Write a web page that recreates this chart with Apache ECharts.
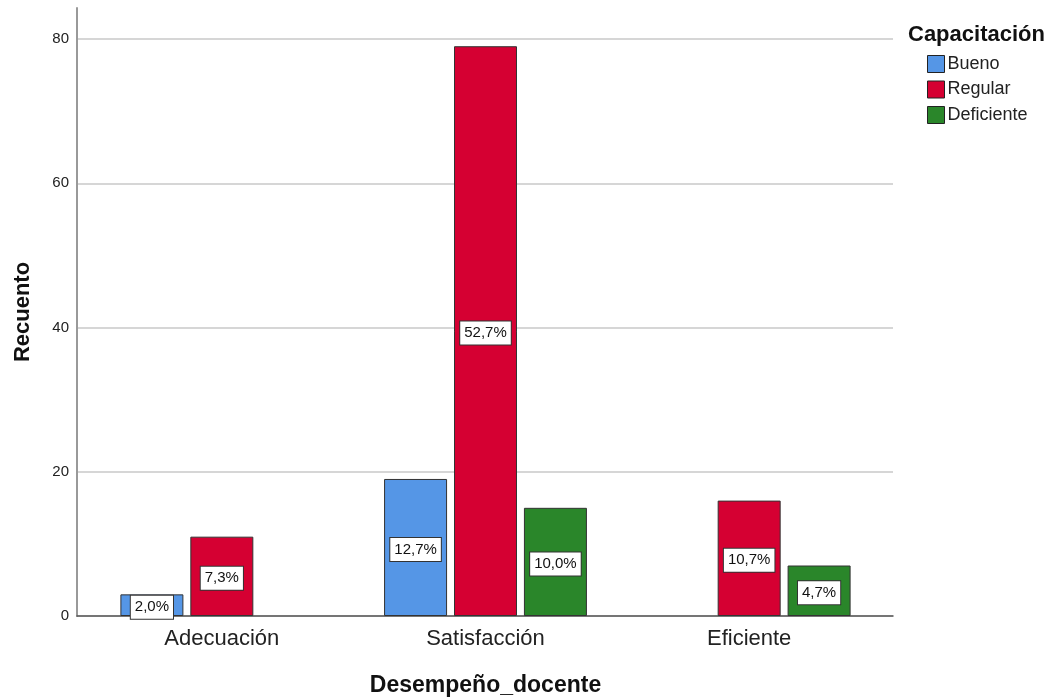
<!DOCTYPE html>
<html><head><meta charset="utf-8">
<script src="https://cdn.jsdelivr.net/npm/echarts@6/dist/echarts.min.js"></script>
<style>html,body{margin:0;padding:0;background:#fff}#c{width:1049px;height:698px}</style>
</head><body><div id="c"></div>
<script>
const categories = ['Adecuación', 'Satisfacción', 'Eficiente'];
const seriesNames = ['Bueno', 'Regular', 'Deficiente'];
const bueno = [3, 19, null];
const regular = [11, 79, 16];
const deficiente = [null, 15, 7];
const buenoPct = ['2,0%', '12,7%', ''];
const regularPct = ['7,3%', '52,7%', '10,7%'];
const deficientePct = ['', '10,0%', '4,7%'];
const yTicks = [0, 20, 40, 60, 80];
const colors = ['#5596E6', '#D50032', '#2A862A'];

const chart = echarts.init(document.getElementById('c'), null, {renderer: 'canvas'});
const font = 'Liberation Sans, Arial, sans-serif';
const YMAX = 84.3;
function mk(name, data, pct, color) {
  return {
    name: name, type: 'bar', data: data, barWidth: 63, barGap: '11%',
    xAxisIndex: 1, yAxisIndex: 1,
    itemStyle: {color: color, borderColor: '#333', borderWidth: 1},
    label: {
      show: true, position: 'inside', formatter: p => pct[p.dataIndex],
      color: '#111', fontSize: 15, fontFamily: font,
      backgroundColor: '#fff', borderColor: '#333', borderWidth: 1, padding: [5, 4, 3, 4],
      offset: [0, 2]
    }
  };
}
chart.setOption({
  animation: false,
  textStyle: {fontFamily: font},
  grid: [
    {left: 77, right: 156, top: 8, bottom: 82, outerBoundsMode: 'none', containLabel: false},
    {left: 90, right: 168, top: 8, bottom: 82, outerBoundsMode: 'none', containLabel: false}
  ],
  legend: {
    orient: 'vertical', left: 922, top: 50, itemWidth: 17, itemHeight: 17, itemGap: 7.5,
    icon: 'rect', textStyle: {fontSize: 18, color: '#222', fontFamily: font, padding: [0,0,0,-2]},
    itemStyle: {borderColor: '#222', borderWidth: 1}
  },
  title: {text: 'Capacitación', left: 903, top: 19, textStyle: {fontSize: 22, fontWeight: 'bold', color: '#111', fontFamily: font}},
  xAxis: [
    {
      type: 'value', gridIndex: 0, min: 0, max: 1,
      axisLine: {show: true, lineStyle: {color: '#555', width: 1.5}}, axisTick: {show: false},
      axisLabel: {show: false}, splitLine: {show: false}
    },
    {
      type: 'category', gridIndex: 1, data: categories,
      name: 'Desempeño_docente', nameLocation: 'middle', nameGap: 58,
      nameTextStyle: {fontSize: 23, fontWeight: 'bold', color: '#111', fontFamily: font},
      axisLine: {show: false}, axisTick: {show: false},
      axisLabel: {fontSize: 22, color: '#222', margin: 12, fontFamily: font}
    }
  ],
  yAxis: [
    {
      type: 'value', gridIndex: 0, min: 0, max: YMAX, interval: 20,
      name: 'Recuento', nameLocation: 'middle', nameGap: 43, nameRotate: 90,
      nameTextStyle: {fontSize: 22, fontWeight: 'bold', color: '#111', fontFamily: font},
      axisLine: {show: true, lineStyle: {color: '#999', width: 2}}, axisTick: {show: false},
      axisLabel: {fontSize: 15, color: '#222', margin: 8, showMaxLabel: false,
        formatter: v => yTicks.includes(v) ? String(v) : ''},
      splitLine: {show: true, showMaxLine: false, lineStyle: {color: '#c8c8c8', width: 1.5}}
    },
    {
      type: 'value', gridIndex: 1, min: 0, max: YMAX, show: false, splitLine: {show: false}
    }
  ],
  series: [
    mk(seriesNames[0], bueno, buenoPct, colors[0]),
    mk(seriesNames[1], regular, regularPct, colors[1]),
    mk(seriesNames[2], deficiente, deficientePct, colors[2])
  ]
});
</script></body></html>
